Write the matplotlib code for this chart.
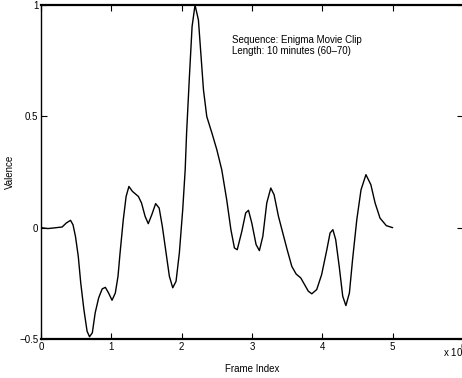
import matplotlib
matplotlib.use("Agg")
import matplotlib.pyplot as plt

# valence curve (frame index in units of 1e4)
frame = [0.00, 0.10, 0.19, 0.30, 0.36, 0.42, 0.455, 0.49, 0.53, 0.565,
         0.61, 0.655, 0.69, 0.73, 0.77, 0.82, 0.87, 0.915, 0.96, 1.01,
         1.057, 1.095, 1.124, 1.17, 1.21, 1.25, 1.30, 1.385, 1.43, 1.48,
         1.525, 1.575, 1.63, 1.68, 1.725, 1.775, 1.825, 1.873, 1.92, 1.967,
         2.015, 2.05, 2.07, 2.11, 2.148, 2.19, 2.238, 2.276, 2.31, 2.357,
         2.43, 2.50, 2.57, 2.64, 2.70, 2.75, 2.79, 2.855, 2.91, 2.95,
         2.997, 3.058, 3.105, 3.154, 3.21, 3.267, 3.314, 3.376, 3.438, 3.50,
         3.566, 3.627, 3.694, 3.755, 3.80, 3.85, 3.92, 3.99, 4.064, 4.11,
         4.15, 4.19, 4.24, 4.29, 4.335, 4.385, 4.43, 4.49, 4.55, 4.62,
         4.69, 4.75, 4.82, 4.91, 5.00]
valence = [0.000, -0.004, -0.001, 0.003, 0.021, 0.033, 0.013, -0.039, -0.129, -0.248,
           -0.368, -0.465, -0.490, -0.472, -0.383, -0.315, -0.275, -0.268, -0.293, -0.326,
           -0.293, -0.218, -0.114, 0.036, 0.140, 0.185, 0.163, 0.140, 0.110, 0.051,
           0.018, 0.058, 0.108, 0.088, 0.006, -0.106, -0.218, -0.270, -0.241, -0.114,
           0.081, 0.260, 0.425, 0.678, 0.903, 1.000, 0.933, 0.768, 0.619, 0.499,
           0.425, 0.350, 0.260, 0.126, -0.009, -0.091, -0.099, -0.017, 0.066, 0.078,
           0.021, -0.076, -0.103, -0.039, 0.111, 0.178, 0.148, 0.051, -0.024, -0.099,
           -0.174, -0.208, -0.226, -0.260, -0.285, -0.297, -0.278, -0.211, -0.099, -0.024,
           -0.009, -0.054, -0.174, -0.308, -0.350, -0.293, -0.143, 0.036, 0.170, 0.238,
           0.193, 0.111, 0.043, 0.009, 0.000]

xticks = [0, 1, 2, 3, 4, 5, 6]
yticks = [-0.5, 0, 0.5, 1]
ylabels = ["\u22120.5", "0", "0.5", "1"]

plt.rcParams['font.family'] = ['Liberation Sans', 'DejaVu Sans']

fig = plt.figure(figsize=(4.62, 3.78), dpi=100)
ax = fig.add_axes([41/462, 39/378, 422/462, 334/378])

ax.plot([f*1e4 for f in frame], valence, color='black', linewidth=1.0,
        solid_joinstyle='round', solid_capstyle='round')

ax.set_xlim(0, 6e4)
ax.set_ylim(-0.5, 1)
ax.set_xticks([t*1e4 for t in xticks])
ax.set_xticklabels([str(t) for t in xticks])
ax.set_yticks(yticks)
ax.set_yticklabels(ylabels)
ax.tick_params(direction='in', top=True, right=True, labelsize=7, length=4, width=0.8, pad=2)
for s in ax.spines.values():
  s.set_linewidth(1.0)
ax.spines['bottom'].set_linewidth(1.6)
ax.spines['top'].set_linewidth(1.6)

ax.set_xlabel('Frame Index', fontsize=7, labelpad=9)
ax.set_ylabel('Valence', fontsize=7, labelpad=3)

ax.text(2.72e4, 0.865, 'Sequence: Enigma Movie Clip\nLength: 10 minutes (60\u201370)',
        fontsize=7, va='top', ha='left', linespacing=1.1)

fig.text(443/462, 1 - 352/378, 'x 10$^4$', fontsize=7, va='center', ha='left')

fig.savefig('out.png', dpi=100)
